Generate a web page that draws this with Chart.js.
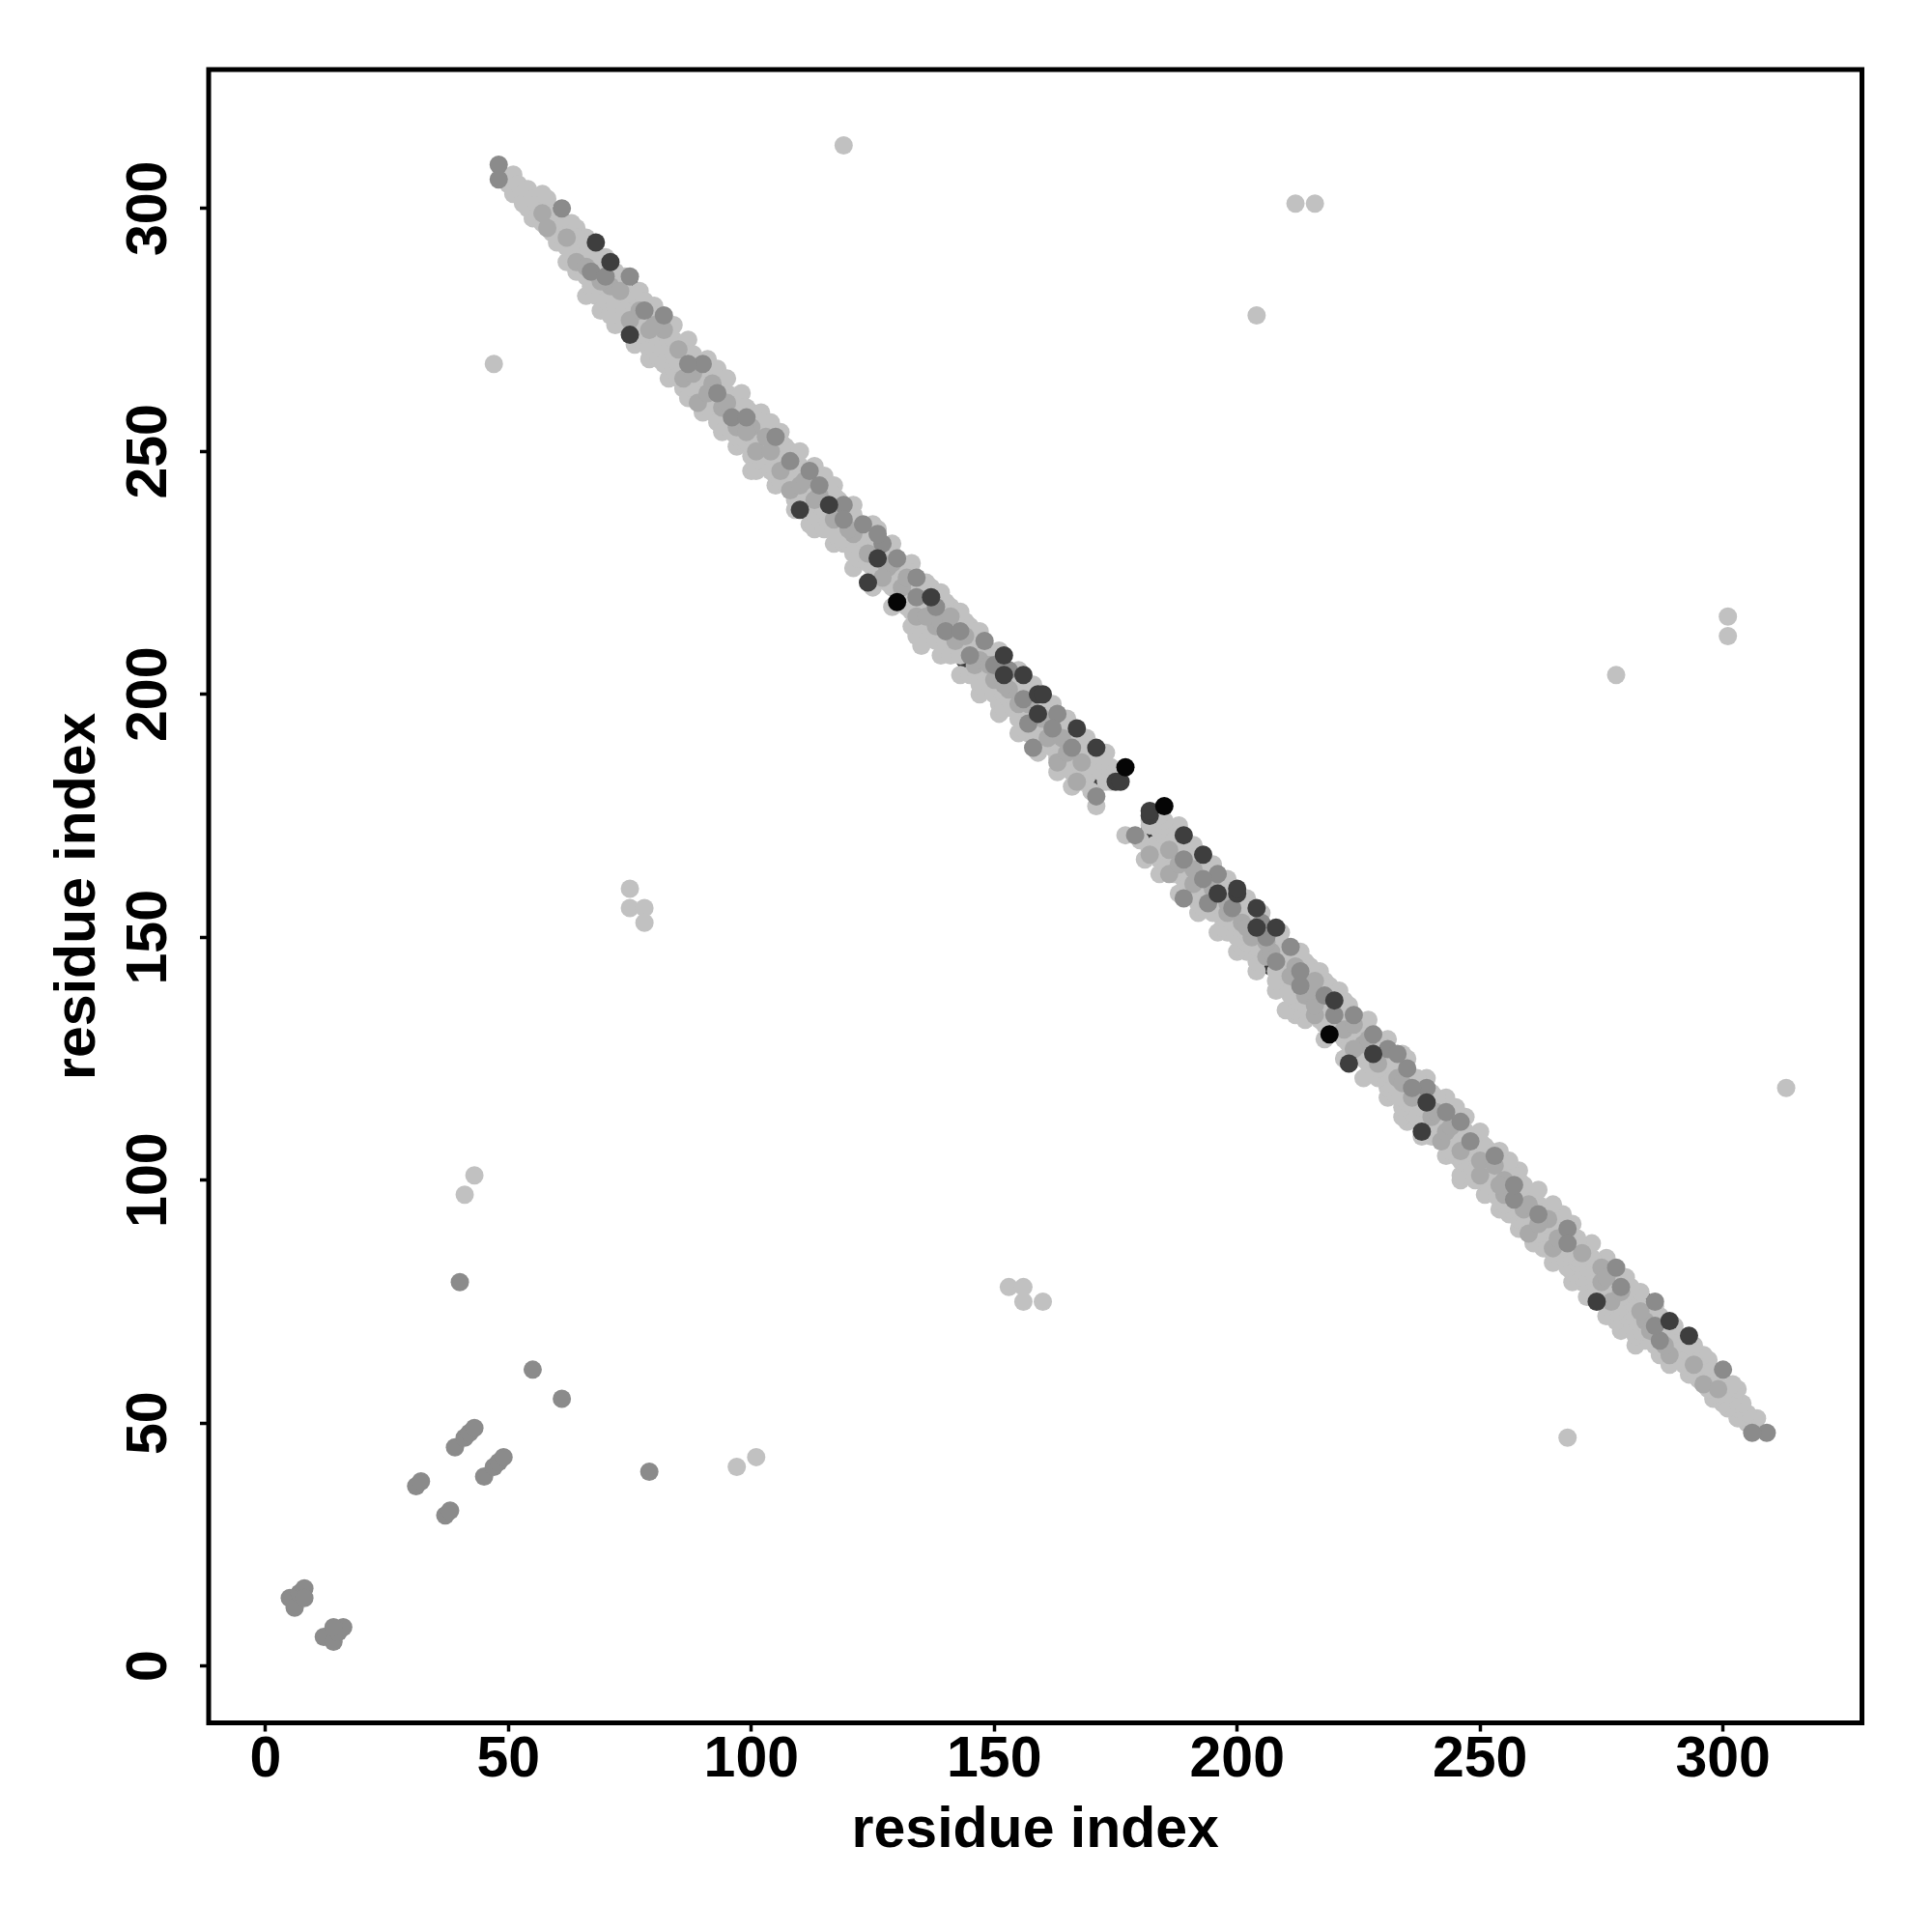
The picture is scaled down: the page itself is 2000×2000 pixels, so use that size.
<!DOCTYPE html>
<html>
<head>
<meta charset="utf-8">
<script src="https://cdn.jsdelivr.net/npm/chart.js@4.4.1/dist/chart.umd.min.js"></script>
<style>
html,body{margin:0;padding:0;background:#ffffff;}
#wrap{width:2000px;height:2000px;}
</style>
</head>
<body>
<div id="wrap"><canvas id="c" width="2000" height="2000"></canvas></div>
<script>
// ---------------- data ----------------
const xTicks = [0, 50, 100, 150, 200, 250, 300];
const yTicks = [0, 50, 100, 150, 200, 250, 300];
const xTitle = 'residue index';
const yTitle = 'residue index';

// Anti-diagonal contact band, upper half (x < y). The contact map is symmetric,
// so the lower half is the same set with x and y swapped.
// Each row: [x, y1, y2, ...]
const bandLightRows = [
  [49,306],[50,305],[51,307,303],[52,305],[53,303,301],[54,304,300],[55,302,298],[56,301,298],
  [57,303,301,297],[58,302,299,296],[59,298,295],[60,297,293],[61,296,294],[62,297,292,289],[63,297,295,291],
  [64,296,294,289,287],[65,292,288],[66,294,293,290,286,282],[67,291,288,284],[68,289,286,282],[69,290,287,283,279],
  [70,290,288,285,281],[71,286,282,278],[72,287,284,280,276],[73,285,281,278],[74,286,283,279,276],[75,281,277],
  [76,282,279,275,272],[77,283,280,277,273],[78,281,277,274],[79,279,275,271,269],[80,280,278,274,271],[81,276,273,269],
  [82,272,268],[83,276,273,270,265],[84,276,273,270,267],[85,271,268,265],[86,272,267,263],[87,273,270,266,263,261],
  [88,270,267,263],[89,268,265,262],[90,264,261,258],[91,269,267,263,259],[92,266,262,258],[93,267,264,260,256],
  [94,263,259,256,254],[95,265,262,258,255],[96,261,257,254],[97,260,256,253,251],[98,262,259,255,252],[99,259,256,252],
  [100,258,253,249,246],[101,257,253,249,246],[102,258,256,252,248],[103,255,251,248],[104,256,250,246],[105,249,245,243],
  [106,254,252,248,244],[107,251,249,245],[108,250,246,242],[109,248,244,240,238],[110,250,247,243,240],[111,246,242],
  [112,243,240,235],[113,247,245,241,237,234],[114,243,239,236],[115,245,242,238,234],[116,242,235],[117,243,241,237,234,231],
  [118,240,236,232],[119,231],[120,238,234,231],[121,239,237,233,229,226],[122,235,231,228],[123,232,229],
  [124,234,231,227],[125,235,233,229,226,222],[126,234,230,225],[127,229,226],[128,230,227,223],[129,231,229,225,222,218],
  [130,226,222],[131,227,223,220],[132,226,222,218],[133,227,225,221,217,214],[134,212],[135,223,219,215,212,210],
  [136,223,218,214],[137,222,216,212],[138,219,215,211],[139,221,220,217,213,208],[140,219,215,211],[141,218,214,208],
  [142,217,213,210],[143,217,216,212,208,204],[144,215,212],[145,214,211,204],[146,213,209,205],[147,213,209,206,202,200],
  [148,210,208,204,201],[149,209,205,202],[150,208,204,200],[151,209,206,202,198,196],[152,200,197],[153,202,199],
  [154,204,201,197],[155,205,203,199,195,192],[156,201,197,193],[157,200,197,192],[158,202,199,196,192],[159,194,191,188],
  [160,197,193,190],[161,198,194,190],[162,198,196,192,189],[163,193,190,187,184],[164,195,191,187],[165,195,194,190,186],
  [166,190,187,184,181],[167,189,187,184],[168,191,188,185,182],[169,191,189,186,183],[170,186,180],[171,185,177],
  [172,187,184],[173,188,185,182],[174,185,182],[175,184],[176,184]
];
const bandMidLight = [
  [64,289],[71,284],[75,277],[82,275],[86,265],[89,260],[100,255],[101,250],[108,242],[134,216],
  [163,186],[167,182],[58,296],[66,288],[79,275],[94,259],[113,240],[121,233],[128,226],[138,214],
  [146,206],[155,198],[161,191],[69,285],[97,255],[142,211],[150,203],[117,236],[104,250],[131,222],
  [62,294],[73,283],[77,279],[85,271],[88,266],[92,264],[95,260],[99,254],[103,253],[106,246],
  [110,243],[114,241],[118,238],[120,234],[124,229],[127,224],[132,224],[136,216],[139,215],[144,212],
  [147,207],[149,206],[153,201],[157,198],[160,195],[164,191],[168,186],[57,299],[80,276],[91,262],
  [111,244],[129,227],[141,216],[152,202],[165,188]
];
const bandMid = [
  [48,309],[48,306],[61,300],[75,286],[82,278],[90,268],[105,253],[112,246],[119,239],[119,236],
  [123,235],[127,231],[130,228],[134,224],[134,220],[145,208],[148,211],[153,205],[157,194],[163,196],
  [171,179],[67,287],[96,257],[140,213],[158,189],[78,279],[87,268],[99,257],[108,248],[114,243],
  [126,233],[138,218],[143,213],[150,206],[156,199],[162,193],[166,189],[93,262],[70,286]
];
const bandDarkUnder = [[75,284],[144,207],[170,183]];
const bandBlackUnder = [[172,182]];
const bandDark = [
  [68,293],[71,289],[75,274],[110,238],[116,239],[124,223],[126,228],[137,220],[152,208],[152,204],
  [156,204],[159,200],[160,200],[159,196],[167,193],[171,189],[175,182],[176,182]
];
const bandBlack = [[177,185],[130,219]];

// Isolated contacts (both halves, as read)
const outlierLight = [
  [119,313],[47,268],[212,301],[216,301],[204,278],[301,216],[301,212],[278,204],[313,119],[268,47],
  [75,160],[75,156],[78,156],[78,153],[43,101],[41,97],[153,78],[156,78],[156,75],[160,75],[97,41],[101,43]
];
const outlierMid = [
  [40,79],[79,40],[55,61],[61,55],[39,45],[41,47],[42,48],[43,49],[45,39],[47,41],[48,42],[49,43],
  [31,37],[32,38],[37,31],[38,32],[5,14],[6,12],[7,15],[8,16],[8,14],[12,6],[14,5],[15,7],[16,8],[14,8]
];

// ---------------- styling ----------------
const COLORS = {light:'#c1c1c1', midLight:'#a9a9a9', mid:'#8b8b8b', dark:'#3e3e3e', black:'#050505'};

function rowsToPts(rows){const p=[];rows.forEach(r=>{for(let i=1;i<r.length;i++)p.push({x:r[0],y:r[i]});});return p;}
function pairsToPts(a){return a.map(q=>({x:q[0],y:q[1]}));}
function withMirror(p){return p.concat(p.map(q=>({x:q.y,y:q.x})));}

function ds(label, data, color, order){
  return {label, data, order, showLine:false,
    pointRadius:9.5, pointHoverRadius:9.5, pointBorderWidth:0,
    pointBackgroundColor:color, pointBorderColor:color, backgroundColor:color, borderColor:color};
}

const datasets = [
  ds('blackUnder', withMirror(pairsToPts(bandBlackUnder)), COLORS.black, 8),
  ds('darkUnder', withMirror(pairsToPts(bandDarkUnder)), COLORS.dark, 7),
  ds('light', withMirror(rowsToPts(bandLightRows)), COLORS.light, 6),
  ds('outlierLight', pairsToPts(outlierLight), COLORS.light, 6),
  ds('midLight', withMirror(pairsToPts(bandMidLight)), COLORS.midLight, 5),
  ds('mid', withMirror(pairsToPts(bandMid)), COLORS.mid, 4),
  ds('outlierMid', pairsToPts(outlierMid), COLORS.mid, 4),
  ds('dark', withMirror(pairsToPts(bandDark)), COLORS.dark, 2),
  ds('black', withMirror(pairsToPts(bandBlack)), COLORS.black, 1)
];

const FONT = 'bold 59px "Liberation Sans", Arial, Helvetica, sans-serif';

const frameAndText = {
  id:'frameAndText',
  afterDraw(chart){
    const {ctx, chartArea:a, scales} = chart;
    const xs = scales.x, ys = scales.y;
    ctx.save();
    ctx.strokeStyle = '#000'; ctx.lineWidth = 5;
    ctx.strokeRect(a.left, a.top, a.right - a.left, a.bottom - a.top);
    ctx.fillStyle = '#000'; ctx.font = FONT;
    ctx.textAlign = 'center'; ctx.textBaseline = 'alphabetic';
    xs.ticks.forEach(t => ctx.fillText(String(t.value), xs.getPixelForValue(t.value), a.bottom + 55.5));
    ys.ticks.forEach(t => {
      ctx.save(); ctx.translate(a.left - 44, ys.getPixelForValue(t.value)); ctx.rotate(-Math.PI/2);
      ctx.fillText(String(t.value), 0, 0); ctx.restore();
    });
    ctx.fillText(xTitle, (a.left + a.right)/2, a.bottom + 128);
    ctx.save(); ctx.translate(a.left - 118, (a.top + a.bottom)/2); ctx.rotate(-Math.PI/2);
    ctx.fillText(yTitle, 0, 0); ctx.restore();
    ctx.restore();
  }
};

const gridOpts = {display:true, drawOnChartArea:false, drawTicks:true, tickLength:9, tickWidth:3.5, tickColor:'#000', color:'#000'};

new Chart(document.getElementById('c'), {
  type:'scatter',
  data:{datasets},
  options:{
    responsive:false, animation:false, devicePixelRatio:1,
    layout:{padding:{left:0, right:72.5, top:72, bottom:0}},
    plugins:{legend:{display:false}, tooltip:{enabled:false}},
    events:[],
    scales:{
      x:{type:'linear', min:-11.7, max:328.6,
         afterBuildTicks:s=>{s.ticks = xTicks.map(v=>({value:v}));},
         afterFit:s=>{s.height = 216.5;},
         ticks:{display:false}, grid:gridOpts, border:{display:false}},
      y:{type:'linear', min:-11.7, max:328.6,
         afterBuildTicks:s=>{s.ticks = yTicks.map(v=>({value:v}));},
         afterFit:s=>{s.width = 216;},
         ticks:{display:false}, grid:gridOpts, border:{display:false}}
    }
  },
  plugins:[frameAndText]
});
</script>
</body>
</html>
